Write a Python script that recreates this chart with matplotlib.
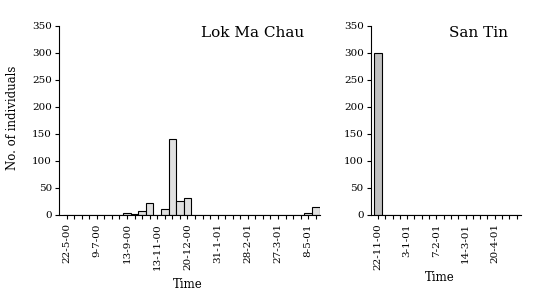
import matplotlib
matplotlib.use("Agg")
import matplotlib.pyplot as plt
import numpy as np

# Lok Ma Chau counts per survey (34 surveys)
lmc_counts = [0, 0, 0, 0, 0, 0, 0, 0, 3, 1.5, 8, 22, 0, 11, 140, 26, 31,
              0, 0, 0, 0, 0, 0, 0, 0, 0, 0, 0, 0, 0, 0, 0, 3, 14]
lmc_labels = ["22-5-00", "9-7-00", "13-9-00", "13-11-00", "20-12-00",
              "31-1-01", "28-2-01", "27-3-01", "8-5-01"]

# San Tin counts per survey (20 surveys)
st_counts = [300, 0, 0, 0, 0, 0, 0, 0, 0, 0, 0, 0, 0, 0, 0, 0, 0, 0, 0, 0]
st_labels = ["22-11-00", "3-1-01", "7-2-01", "14-3-01", "20-4-01"]

plt.rcParams["font.family"] = "DejaVu Serif"

fig = plt.figure(figsize=(5.47, 2.92), dpi=100)
ax1 = fig.add_axes([0.1079, 0.2637, 0.477, 0.648])
ax2 = fig.add_axes([0.6777, 0.2637, 0.2742, 0.648])


def style_axis(ax, counts, labels, color, title, title_x):
    x = np.arange(len(counts))
    ax.bar(x, counts, width=1.0, color=color, edgecolor="black", linewidth=0.8)
    ax.set_xlim(-1, len(counts) - 0.45)
    ax.set_ylim(0, 350)
    ax.set_yticks(range(0, 351, 50))
    ax.set_xticks(x)
    ticklabels = [""] * len(counts)
    for i, lab in enumerate(labels):
        ticklabels[i * 4] = lab
    ax.set_xticklabels(ticklabels, rotation=90)
    ax.tick_params(axis="both", direction="out", length=3, width=0.8, labelsize=7.5, pad=2)
    ax.tick_params(axis="x", pad=3)
    for s in ["top", "right"]:
        ax.spines[s].set_visible(False)
    for s in ["left", "bottom"]:
        ax.spines[s].set_linewidth(0.8)
    ax.text(title_x, 1.0, title, transform=ax.transAxes, ha="right", va="top", fontsize=11)


style_axis(ax1, lmc_counts, lmc_labels, "#e0e0e0", "Lok Ma Chau", 0.94)
style_axis(ax2, st_counts, st_labels, "#c0c0c0", "San Tin", 0.915)

ax1.set_ylabel("No. of individuals", fontsize=8.5, va="center")
ax1.yaxis.set_label_coords(-0.18, 0.515)
ax1.set_xlabel("Time", fontsize=8.5)
ax1.xaxis.set_label_coords(0.494, -0.333)
ax2.set_xlabel("Time", fontsize=8.5)
ax2.xaxis.set_label_coords(0.462, -0.296)

fig.savefig("out.png", dpi=100)
